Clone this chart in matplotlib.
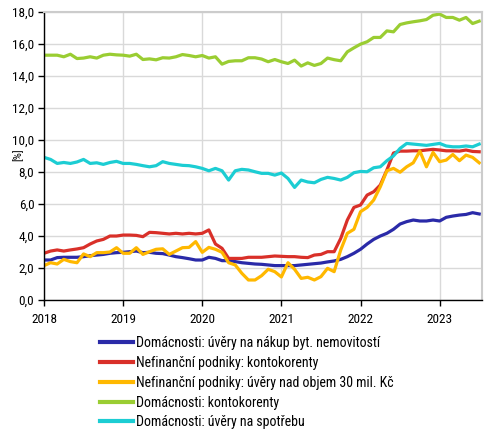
import matplotlib
matplotlib.use("Agg")
import matplotlib.pyplot as plt
import numpy as np

plt.rcParams['font.family'] = ['Roboto Condensed', 'Liberation Sans Narrow', 'Roboto', 'DejaVu Sans']

# Monthly data Jan 2018 - Jul 2023 (67 months)
months = np.arange(67)
year_labels = ['2018', '2019', '2020', '2021', '2022', '2023']
y_ticks = [0, 2, 4, 6, 8, 10, 12, 14, 16, 18]

dom_byt = [2.47, 2.47, 2.62, 2.64, 2.64, 2.64, 2.68, 2.74, 2.78, 2.82, 2.89, 2.93,
           2.95, 2.99, 3.03, 2.93, 2.95, 2.89, 2.87, 2.78, 2.68, 2.62, 2.55, 2.47,
           2.47, 2.64, 2.57, 2.43, 2.43, 2.37, 2.30, 2.26, 2.22, 2.20, 2.16, 2.12,
           2.12, 2.12, 2.12, 2.16, 2.20, 2.24, 2.28, 2.35, 2.41, 2.51, 2.68, 2.89,
           3.14, 3.47, 3.76, 3.97, 4.14, 4.39, 4.72, 4.87, 4.97, 4.91, 4.91, 4.97,
           4.91, 5.14, 5.22, 5.28, 5.32, 5.43, 5.35]

nf_konto = [2.89, 3.03, 3.10, 3.03, 3.10, 3.16, 3.24, 3.47, 3.66, 3.76, 3.97, 3.97,
            4.03, 4.03, 4.01, 3.93, 4.20, 4.18, 4.14, 4.10, 4.14, 4.10, 4.14, 4.10,
            4.14, 4.35, 3.47, 3.20, 2.57, 2.57, 2.57, 2.64, 2.64, 2.64, 2.68, 2.72,
            2.70, 2.68, 2.68, 2.64, 2.62, 2.78, 2.82, 2.99, 2.99, 3.82, 4.97, 5.76,
            5.91, 6.53, 6.74, 7.16, 8.10, 9.16, 9.28, 9.28, 9.30, 9.30, 9.35, 9.39,
            9.35, 9.30, 9.30, 9.28, 9.35, 9.26, 9.24]

nf_30 = [2.12, 2.30, 2.22, 2.51, 2.37, 2.30, 2.85, 2.68, 2.93, 2.93, 2.97, 3.24,
         2.89, 2.89, 3.24, 2.82, 2.99, 3.14, 3.17, 2.82, 3.03, 3.24, 3.26, 3.62,
         2.95, 3.26, 3.14, 2.95, 2.30, 2.16, 1.64, 1.22, 1.22, 1.49, 1.89, 1.74,
         1.41, 2.30, 1.89, 1.32, 1.39, 1.22, 1.43, 1.95, 1.74, 3.10, 4.14, 4.39,
         5.49, 5.76, 6.22, 7.05, 8.05, 8.20, 7.96, 8.30, 8.55, 9.28, 8.30, 9.20,
         8.62, 8.72, 9.07, 8.68, 9.03, 8.89, 8.55]

dom_konto = [15.28, 15.28, 15.28, 15.18, 15.34, 15.07, 15.10, 15.18, 15.10, 15.28, 15.34, 15.30,
             15.28, 15.22, 15.34, 15.01, 15.05, 14.99, 15.12, 15.10, 15.18, 15.32, 15.26, 15.18,
             15.26, 15.10, 15.18, 14.72, 14.89, 14.93, 14.93, 15.12, 15.12, 15.04, 14.87, 15.01,
             14.87, 14.76, 14.97, 14.60, 14.80, 14.64, 14.76, 15.10, 15.00, 14.93, 15.49, 15.74,
             15.97, 16.12, 16.39, 16.39, 16.80, 16.74, 17.20, 17.30, 17.37, 17.43, 17.51, 17.78,
             17.85, 17.64, 17.64, 17.47, 17.64, 17.26, 17.41]

dom_spotr = [8.89, 8.76, 8.51, 8.57, 8.51, 8.60, 8.76, 8.51, 8.55, 8.45, 8.57, 8.64,
             8.51, 8.51, 8.45, 8.37, 8.30, 8.37, 8.62, 8.51, 8.45, 8.39, 8.37, 8.30,
             8.20, 8.05, 8.20, 8.05, 7.47, 8.05, 8.14, 8.10, 7.99, 7.89, 7.89, 7.78,
             7.91, 7.57, 7.01, 7.47, 7.35, 7.30, 7.51, 7.64, 7.57, 7.47, 7.64, 7.93,
             8.01, 7.99, 8.24, 8.30, 8.68, 8.98, 9.45, 9.76, 9.72, 9.68, 9.64, 9.70,
             9.76, 9.60, 9.55, 9.55, 9.60, 9.55, 9.72]

series = [
    ('Domácnosti: úvěry na nákup byt. nemovitostí', dom_byt, '#2a2aa8'),
    ('Nefinanční podniky: kontokorenty', nf_konto, '#d93029'),
    ('Nefinanční podniky: úvěry nad objem 30 mil. Kč', nf_30, '#ffb800'),
    ('Domácnosti: kontokorenty', dom_konto, '#9acd32'),
    ('Domácnosti: úvěry na spotřebu', dom_spotr, '#1ccdd3'),
]

fig = plt.figure(figsize=(4.93, 4.38), dpi=100)
ax = fig.add_axes([44/493, 1 - 299.5/438, (482.5-44)/493, (299.5-11.7)/438])

for label, vals, col in series:
    ax.plot(months, vals, color=col, lw=2.3, label=label, solid_joinstyle='round')

ax.set_xlim(0, 66.5)
ax.set_ylim(0, 18)
ax.set_xticks(np.arange(len(year_labels)) * 12)
ax.set_xticklabels(year_labels)
ax.set_yticks(y_ticks)
ax.set_yticklabels([f"{v:.1f}".replace('.', ',') for v in y_ticks])
ax.grid(True, color='#d9d9d9', lw=1.0)
ax.set_axisbelow(True)
for s in ['top', 'right']:
    ax.spines[s].set_color('#cccccc')
    ax.spines[s].set_linewidth(1.5)
for s in ['left', 'bottom']:
    ax.spines[s].set_color('black')
    ax.spines[s].set_linewidth(1.0)
ax.tick_params(axis='both', labelsize=9.5, length=4, width=1, colors='black', pad=3)
ax.tick_params(axis='x', pad=6)

fig.text(18/493, 1 - 155/438, '[%]', rotation=90, ha='center', va='center', fontsize=8)

leg = fig.legend(loc='upper left', bbox_to_anchor=(100/493, 1 - 336/438), frameon=False,
                 fontsize=10, handlelength=2.4, handletextpad=0.2, labelspacing=0.42,
                 borderaxespad=0, borderpad=0)
for l in leg.get_lines():
    l.set_linewidth(3)

fig.savefig('out.png', dpi=100)
